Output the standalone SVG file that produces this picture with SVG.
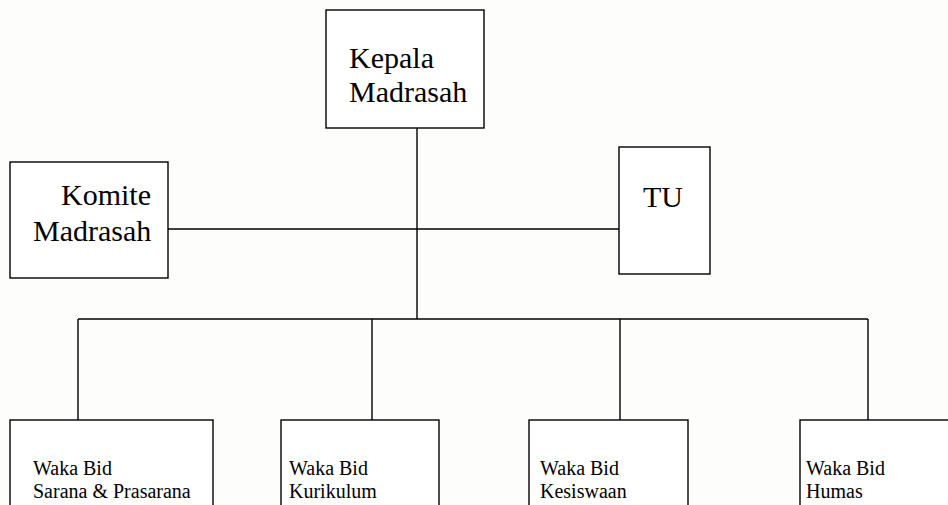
<svg xmlns="http://www.w3.org/2000/svg" width="948" height="505" viewBox="0 0 948 505">
<style>
.box{fill:#fff;stroke:#000;stroke-width:1.4}
.ln{fill:none;stroke:#000;stroke-width:1.4}
.big{font-family:"Liberation Serif","Times New Roman",serif;font-size:30px;fill:#000}
.sm{font-family:"Liberation Serif","Times New Roman",serif;font-size:20px;fill:#000}
</style>
<rect width="948" height="505" fill="#fdfdfc"/>
<g id="connectors">
<path class="ln" d="M417,123 V319"/>
<path class="ln" d="M168,229 H619"/>
<path class="ln" d="M78,319 H868"/>
<path class="ln" d="M78,319 V420 M372,319 V420 M620,319 V420 M868,319 V420"/>
</g>
<g id="kepala">
<rect class="box" x="326" y="10" width="158" height="118"/>
<text class="big" x="349" y="68">Kepala</text>
<text class="big" x="349" y="102">Madrasah</text>
</g>
<g id="komite">
<rect class="box" x="10" y="162" width="158" height="116"/>
<text class="big" x="151" y="205" text-anchor="end">Komite</text>
<text class="big" x="33" y="241">Madrasah</text>
</g>
<g id="tu">
<rect class="box" x="619" y="147" width="91" height="127"/>
<text class="big" x="643" y="207">TU</text>
</g>
<g id="sarana">
<rect class="box" x="10" y="420" width="203" height="100"/>
<text class="sm" x="33" y="475">Waka Bid</text>
<text class="sm" x="33" y="498">Sarana &amp; Prasarana</text>
</g>
<g id="kurikulum">
<rect class="box" x="281" y="420" width="158" height="100"/>
<text class="sm" x="289" y="475">Waka Bid</text>
<text class="sm" x="289" y="498">Kurikulum</text>
</g>
<g id="kesiswaan">
<rect class="box" x="529" y="420" width="159" height="100"/>
<text class="sm" x="540" y="475">Waka Bid</text>
<text class="sm" x="540" y="498">Kesiswaan</text>
</g>
<g id="humas">
<rect class="box" x="800" y="420" width="170" height="100"/>
<text class="sm" x="806" y="475">Waka Bid</text>
<text class="sm" x="806" y="498">Humas</text>
</g>
</svg>
